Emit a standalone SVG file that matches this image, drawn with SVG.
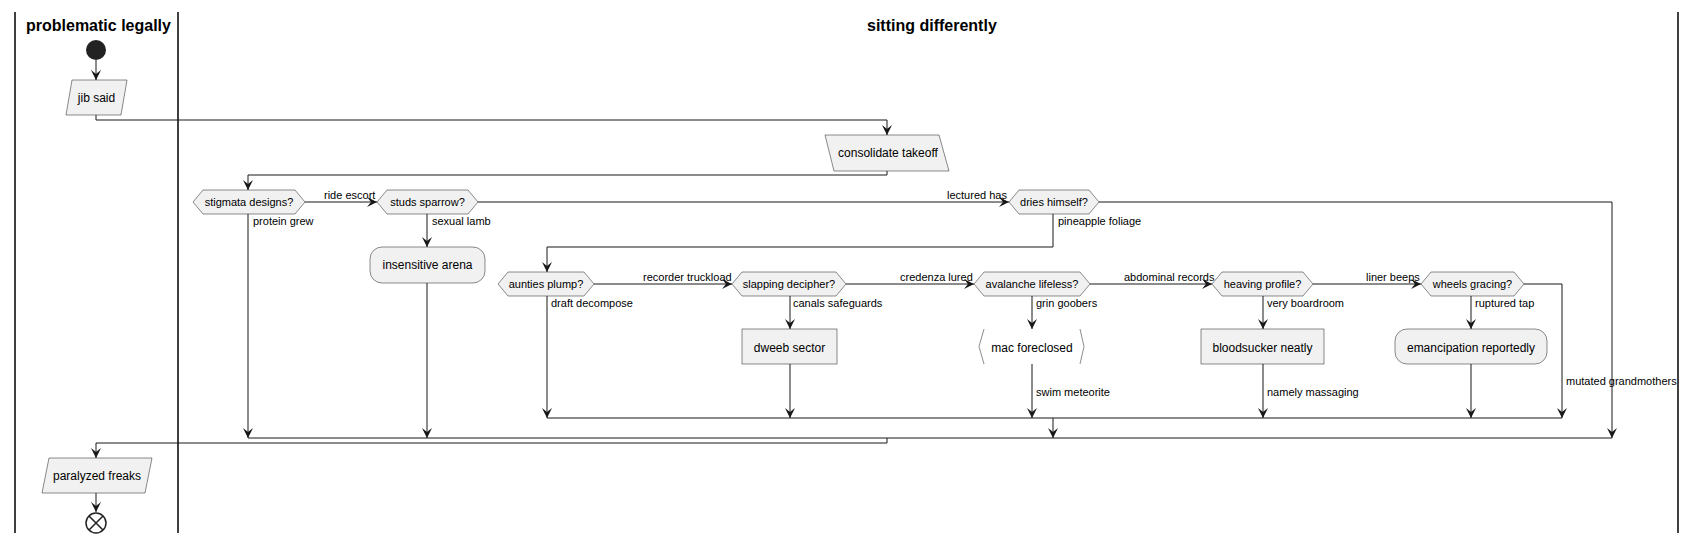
<svg xmlns="http://www.w3.org/2000/svg" width="1697" height="544" viewBox="0 0 1697 544">
<style>
text{font-family:"Liberation Sans",Arial,sans-serif;fill:#000}
.title{font-size:16px;font-weight:bold}
.nt{font-size:12px;text-anchor:middle}
.dt{font-size:11px;text-anchor:middle}
.lb{font-size:11px}
.box{fill:#F1F1F1;stroke:#181818;stroke-width:0.5}
.br{fill:none;stroke:#181818;stroke-width:0.5}
.lane{stroke:#000;stroke-width:1.5}
.c{fill:none;stroke:#181818;stroke-width:1}
.a{marker-end:url(#ah)}
</style>
<defs>
<marker id="ah" viewBox="0 0 10 10" refX="10" refY="5" markerWidth="10" markerHeight="10" markerUnits="userSpaceOnUse" orient="auto">
<path d="M0,0 L10,5 L0,10 L4,5 Z" fill="#181818"/>
</marker>
</defs>
<rect width="1697" height="544" fill="#fff"/>
<g id="lanes">
<line class="lane" x1="15" y1="12" x2="15" y2="533"/>
<line class="lane" x1="178" y1="12" x2="178" y2="533"/>
<line class="lane" x1="1678" y1="12" x2="1678" y2="533"/>
<text class="title" x="26" y="31">problematic legally</text>
<text class="title" x="867" y="31">sitting differently</text>
</g>
<g id="connectors">
<path class="c a" d="M96,60 V80"/>
<path class="c a" d="M96,115 V120 H887 V135"/>
<path class="c a" d="M887,171 V175 H248 V190"/>
<path class="c a" d="M305,202 H377"/>
<text class="lb" x="324" y="199">ride escort</text>
<path class="c a" d="M248,214 V438"/>
<text class="lb" x="253" y="225">protein grew</text>
<path class="c a" d="M427,214 V247"/>
<text class="lb" x="432" y="225">sexual lamb</text>
<path class="c a" d="M427,283 V438"/>
<path class="c a" d="M478,202 H1009"/>
<text class="lb" x="947" y="199">lectured has</text>
<path class="c a" d="M1099,202 H1612 V438"/>
<path class="c a" d="M1053,214 V247 H547 V272"/>
<text class="lb" x="1058" y="225">pineapple foliage</text>
<path class="c a" d="M547,296 V418"/>
<text class="lb" x="551" y="307">draft decompose</text>
<path class="c a" d="M594,284 H732"/>
<text class="lb" x="643" y="281">recorder truckload</text>
<path class="c a" d="M790,296 V329"/>
<text class="lb" x="793" y="307">canals safeguards</text>
<path class="c a" d="M790,364 V418"/>
<path class="c a" d="M846,284 H974"/>
<text class="lb" x="900" y="281">credenza lured</text>
<path class="c a" d="M1032,296 V329"/>
<text class="lb" x="1036" y="307">grin goobers</text>
<path class="c a" d="M1032,364 V418"/>
<text class="lb" x="1036" y="396">swim meteorite</text>
<path class="c a" d="M1090,284 H1212"/>
<text class="lb" x="1124" y="281">abdominal records</text>
<path class="c a" d="M1263,296 V329"/>
<text class="lb" x="1267" y="307">very boardroom</text>
<path class="c a" d="M1263,364 V418"/>
<text class="lb" x="1267" y="396">namely massaging</text>
<path class="c a" d="M1313,284 H1421"/>
<text class="lb" x="1366" y="281">liner beeps</text>
<path class="c a" d="M1471,296 V329"/>
<text class="lb" x="1475" y="307">ruptured tap</text>
<path class="c a" d="M1471,364 V418"/>
<path class="c a" d="M1524,284 H1562 V418"/>
<text class="lb" x="1566" y="385">mutated grandmothers</text>
<path class="c" d="M547,418 H1562"/>
<path class="c a" d="M1053,418 V438"/>
<path class="c" d="M248,438 H1612"/>
<path class="c a" d="M887,438 V443 H96 V458"/>
<path class="c a" d="M96,493 V512"/>
</g>
<g id="start"><circle cx="96" cy="50" r="10" fill="#222"/></g>
<g id="jib-said">
<polygon class="box" points="72,80 127,80 121,115 66,115"/>
<text class="nt" x="96.5" y="102">jib said</text>
</g>
<g id="consolidate-takeoff">
<polygon class="box" points="825,135 939,135 949,171 834,171"/>
<text class="nt" x="888" y="157">consolidate takeoff</text>
</g>
<g id="stigmata-designs">
<polygon class="box" points="193,202 203,190 295,190 305,202 295,214 203,214"/>
<text class="dt" x="249" y="206">stigmata designs?</text>
</g>
<g id="studs-sparrow">
<polygon class="box" points="377,202 387,190 468,190 478,202 468,214 387,214"/>
<text class="dt" x="427.5" y="206">studs sparrow?</text>
</g>
<g id="insensitive-arena">
<rect class="box" x="370" y="247" width="115" height="36" rx="12"/>
<text class="nt" x="427.5" y="269">insensitive arena</text>
</g>
<g id="dries-himself">
<polygon class="box" points="1009,202 1019,190 1089,190 1099,202 1089,214 1019,214"/>
<text class="dt" x="1054" y="206">dries himself?</text>
</g>
<g id="aunties-plump">
<polygon class="box" points="498,284 508,272 584,272 594,284 584,296 508,296"/>
<text class="dt" x="546" y="288">aunties plump?</text>
</g>
<g id="slapping-decipher">
<polygon class="box" points="732,284 742,272 836,272 846,284 836,296 742,296"/>
<text class="dt" x="789" y="288">slapping decipher?</text>
</g>
<g id="dweeb-sector">
<rect class="box" x="742" y="329" width="95" height="35"/>
<text class="nt" x="789.5" y="352">dweeb sector</text>
</g>
<g id="avalanche-lifeless">
<polygon class="box" points="974,284 984,272 1080,272 1090,284 1080,296 984,296"/>
<text class="dt" x="1032" y="288">avalanche lifeless?</text>
</g>
<g id="mac-foreclosed">
<polyline class="br" points="984,329 979,346.5 984,364"/>
<polyline class="br" points="1080,329 1084,346.5 1080,364"/>
<text class="nt" x="1032" y="352">mac foreclosed</text>
</g>
<g id="heaving-profile">
<polygon class="box" points="1212,284 1222,272 1303,272 1313,284 1303,296 1222,296"/>
<text class="dt" x="1262.5" y="288">heaving profile?</text>
</g>
<g id="bloodsucker-neatly">
<rect class="box" x="1201" y="329" width="123" height="35"/>
<text class="nt" x="1262.5" y="352">bloodsucker neatly</text>
</g>
<g id="wheels-gracing">
<polygon class="box" points="1421,284 1431,272 1514,272 1524,284 1514,296 1431,296"/>
<text class="dt" x="1472.5" y="288">wheels gracing?</text>
</g>
<g id="emancipation-reportedly">
<rect class="box" x="1395" y="329" width="152" height="35" rx="12"/>
<text class="nt" x="1471" y="352">emancipation reportedly</text>
</g>
<g id="paralyzed-freaks">
<polygon class="box" points="49,458 152,458 145,493 42,493"/>
<text class="nt" x="97" y="480">paralyzed freaks</text>
</g>
<g id="end">
<circle cx="96" cy="523" r="10" fill="#fff" stroke="#222" stroke-width="1.5"/>
<path d="M89,516 L103,530 M103,516 L89,530" stroke="#222" stroke-width="1.5"/>
</g>
</svg>
